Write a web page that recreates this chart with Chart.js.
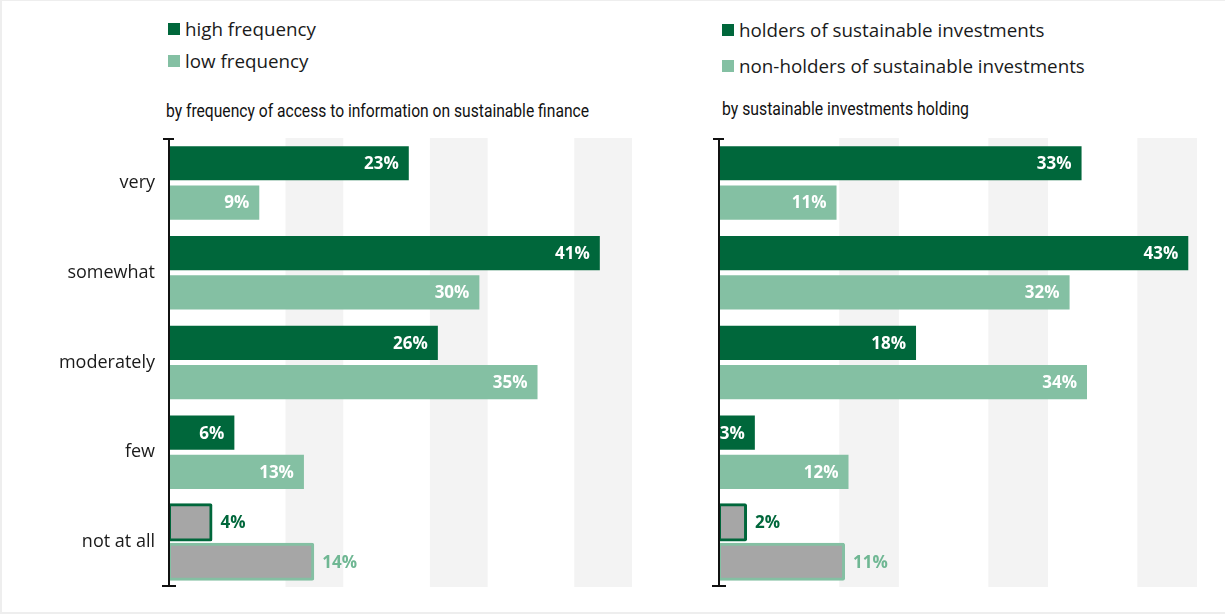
<!DOCTYPE html>
<html><head><meta charset="utf-8">
<script src="https://cdn.jsdelivr.net/npm/chart.js@4"></script>
<style>
html,body{margin:0;padding:0;background:#fff;}
#page{position:relative;width:1225px;height:614px;overflow:hidden;font-family:"Open Sans",sans-serif;color:#1a1a1a;}
#frame{position:absolute;left:0;top:0;width:1225px;height:614px;border-top:1px solid #eee;border-left:2px solid #eee;border-bottom:2px solid #eee;box-sizing:border-box;}
.item{position:absolute;white-space:nowrap;display:flex;align-items:center;height:24px;font-size:18.8px;line-height:24px;}
.sw{width:12px;height:12px;margin-right:5px;flex:none;}
.sub{position:absolute;font-family:Roboto,sans-serif;font-size:18px;white-space:nowrap;line-height:20px;transform-origin:0 50%;color:#111;}
canvas{position:absolute;}
</style>
</head>
<body>
<div id="page">
  <div id="frame"></div>
  <div id="legL1" class="item" style="left:168px;top:17px"></div>
  <div id="legL2" class="item" style="left:168px;top:49px"></div>
  <div id="legR1" class="item" style="left:722px;top:18px"></div>
  <div id="legR2" class="item" style="left:722px;top:54px"></div>
  <div id="subL" class="sub" style="left:166px;top:101px"></div>
  <div id="subR" class="sub" style="left:722px;top:99px"></div>
  <div style="position:absolute;left:0;top:128px;width:650px;height:472px"><canvas id="cL"></canvas></div>
  <div style="position:absolute;left:650px;top:128px;width:575px;height:472px"><canvas id="cR"></canvas></div>
</div>
<script>
// ---- data ----
const categories = ['very', 'somewhat', 'moderately', 'few', 'not at all'];
const outlinedCategory = 'not at all';

const leftSubtitle = 'by frequency of access to information on sustainable finance';
const leftSeriesNames = ['high frequency', 'low frequency'];
const highFrequency = [23.0, 41.4, 25.8, 6.2, 3.9];
const lowFrequency  = [8.6, 29.8, 35.4, 12.9, 13.7];

const rightSubtitle = 'by sustainable investments holding';
const rightSeriesNames = ['holders of sustainable investments', 'non-holders of sustainable investments'];
const holders    = [33.2, 43.0, 18.0, 3.2, 2.3];
const nonHolders = [10.7, 32.1, 33.7, 11.8, 11.3];

// ---- styles ----
const DARK = '#00673b';
const LIGHT = '#84c0a3';
const LIGHT_TEXT = '#6fb793';
const GRAY = '#a6a6a6';
const BAND = '#f3f3f3';

function fillLegend(id, color, text){
  const el = document.getElementById(id);
  el.innerHTML = '<span class="sw" style="background:' + color + '"></span><span></span>';
  el.lastChild.textContent = text;
}
fillLegend('legL1', DARK, leftSeriesNames[0]);
fillLegend('legL2', LIGHT, leftSeriesNames[1]);
fillLegend('legR1', DARK, rightSeriesNames[0]);
fillLegend('legR2', LIGHT, rightSeriesNames[1]);

function fitSub(id, text, targetWidth){
  const el = document.getElementById(id);
  el.textContent = text;
  const w = el.getBoundingClientRect().width;
  if (w > 0) el.style.transform = 'scaleX(' + (targetWidth / w) + ')';
}
fitSub('subL', leftSubtitle, 423);
fitSub('subR', rightSubtitle, 247);

const bandsPlugin = {
  id: 'bands',
  beforeDatasetsDraw(chart){
    const {ctx, chartArea: a} = chart;
    const w = a.right - a.left;
    ctx.save();
    ctx.fillStyle = BAND;
    [[0.25, 0.375], [0.5625, 0.6875], [0.875, 1.0]].forEach(([f0, f1]) => {
      ctx.fillRect(a.left + w * f0, a.top, w * (f1 - f0), a.bottom - a.top);
    });
    ctx.restore();
  }
};

const axisPlugin = {
  id: 'axisCaps',
  afterDatasetsDraw(chart){
    const {ctx, chartArea: a} = chart;
    const x = a.left - 1;
    ctx.save();
    ctx.strokeStyle = '#111';
    ctx.lineWidth = 2;
    ctx.beginPath();
    ctx.moveTo(x, a.top); ctx.lineTo(x, a.bottom);
    ctx.stroke();
    ctx.beginPath();
    ctx.moveTo(x - 6, a.top + 1); ctx.lineTo(x + 5, a.top + 1);
    ctx.moveTo(x - 7, a.bottom - 1); ctx.lineTo(x + 7, a.bottom - 1);
    ctx.stroke();
    ctx.restore();
  }
};

const valuePlugin = {
  id: 'values',
  afterDatasetsDraw(chart){
    const ctx = chart.ctx;
    chart.data.datasets.forEach((ds, di) => {
      const meta = chart.getDatasetMeta(di);
      meta.data.forEach((bar, i) => {
        const txt = Math.round(ds.data[i]) + '%';
        ctx.save();
        ctx.font = 'bold 17px "Open Sans"';
        ctx.textBaseline = 'middle';
        if (chart.data.labels[i] === outlinedCategory) {
          ctx.fillStyle = di === 0 ? DARK : LIGHT_TEXT;
          ctx.textAlign = 'left';
          ctx.fillText(txt, bar.x + 10, bar.y + 1);
        } else {
          ctx.fillStyle = '#ffffff';
          ctx.textAlign = 'right';
          ctx.fillText(txt, bar.x - 10, bar.y + 1);
        }
        ctx.restore();
      });
    });
  }
};

function makeChart(id, names, a, b, xmax, axisWidth, showLabels, padRight){
  const isOutlined = c => c.chart.data.labels[c.dataIndex] === outlinedCategory;
  const mk = (label, data, color) => ({
    label, data,
    backgroundColor: c => isOutlined(c) ? GRAY : color,
    borderColor: color,
    borderWidth: c => isOutlined(c) ? 3 : 0,
    borderSkipped: false,
    borderRadius: c => isOutlined(c) ? 2 : 0,
    inflateAmount: c => isOutlined(c) ? 2 : 'auto',
    categoryPercentage: 0.875,
    barPercentage: 0.87
  });
  return new Chart(document.getElementById(id), {
    type: 'bar',
    data: {
      labels: categories,
      datasets: [mk(names[0], a, DARK), mk(names[1], b, LIGHT)]
    },
    options: {
      indexAxis: 'y',
      responsive: true,
      maintainAspectRatio: false,
      animation: false,
      layout: { padding: { top: 10, bottom: 13, left: 0, right: padRight } },
      scales: {
        x: { display: false, min: 0, max: xmax },
        y: {
          grid: { display: false, drawTicks: false },
          border: { display: false },
          ticks: {
            display: showLabels,
            padding: 15,
            color: '#1a1a1a',
            font: { family: '"Open Sans"', size: 18 }
          },
          afterFit(scale){
            scale.width = axisWidth;
            scale.paddingTop = 0;
            scale.paddingBottom = 0;
          }
        }
      },
      plugins: { legend: { display: false }, tooltip: { enabled: false } }
    },
    plugins: [bandsPlugin, axisPlugin, valuePlugin]
  });
}

makeChart('cL', leftSeriesNames, highFrequency, lowFrequency, 44.5, 170, true, 18);
makeChart('cR', rightSeriesNames, holders, nonHolders, 43.8, 70, false, 28);
</script>
</body></html>
